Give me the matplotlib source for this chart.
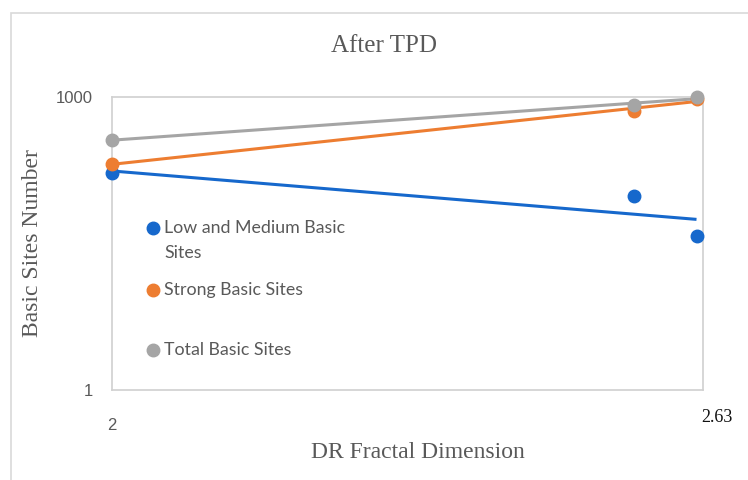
import numpy as np
import matplotlib
matplotlib.use("Agg")
import matplotlib.pyplot as plt
from matplotlib.lines import Line2D
from matplotlib.patches import Rectangle

# ---- data ----
x_vals = [2.0, 2.563, 2.63]
low_medium = [167, 97, 38]
strong = [206, 719, 955]
total = [363, 828, 1000]
series_names = ["Low and Medium Basic\nSites", "Strong Basic Sites", "Total Basic Sites"]
colors = ["#1668cc", "#ed7d31", "#a5a5a5"]

W, H = 748, 480
fig = plt.figure(figsize=(W / 100, H / 100), dpi=100)
fig.patch.set_facecolor("white")

# outer chart border
fig.patches.append(Rectangle((11 / W, -0.1), 1.2, 1 - 13 / H + 0.1, transform=fig.transFigure,
                             fill=False, edgecolor="#d9d9d9", linewidth=1.2))

ax = fig.add_axes([112 / W, 1 - 390 / H, 591 / W, 293 / H])
ax.set_yscale("log")
ax.set_ylim(1, 1000)
ax.set_xlim(2.0, 2.637)

xs = np.array(x_vals)
for ys, c in zip([low_medium, strong, total], colors):
    ys = np.array(ys, dtype=float)
    # exponential trendline (linear fit in log space)
    k, b = np.polyfit(xs, np.log10(ys), 1)
    xt = np.array([xs.min(), xs.max()])
    ax.plot(xt, 10 ** (k * xt + b), color=c, linewidth=2.2, zorder=2, solid_capstyle="butt")
    ax.plot(xs, ys, "o", color=c, markersize=9, zorder=3, clip_on=False)

for s in ax.spines.values():
    s.set_color("#d0d0d0")
    s.set_linewidth(1.2)

ax.set_yticks([1, 1000])
ax.set_yticklabels(["1", "1000"])
ax.yaxis.set_minor_locator(matplotlib.ticker.NullLocator())
ax.set_xticks([2.0])
ax.set_xticklabels(["2"])
ax.tick_params(length=0, labelcolor="#595959", labelsize=12, pad=14)
for lab in ax.get_yticklabels() + ax.get_xticklabels():
    lab.set_family("Liberation Sans")
ax.tick_params(axis="x", pad=20)

fig.text(717 / W, 1 - 417 / H, "2.63", ha="center", va="center",
         family="Liberation Serif", fontsize=13, color="#111111")

fig.text(384 / W, 1 - 46 / H, "After TPD", ha="center", va="center",
         family="Liberation Serif", fontsize=18, color="#595959")
fig.text(418 / W, 1 - 452 / H, "DR Fractal Dimension", ha="center", va="center",
         family="Liberation Serif", fontsize=17, color="#595959")
fig.text(33 / W, 1 - 243 / H, "Basic Sites Number", ha="center", va="center", rotation=90,
         family="Liberation Serif", fontsize=17, color="#595959")

# legend (manual layout)
leg_y = [228, 290, 350]
for name, c, yy in zip(series_names, colors, leg_y):
    fig.lines.append(Line2D([153 / W], [1 - yy / H], marker="o", color=c, markersize=9,
                            transform=fig.transFigure, linestyle="none"))
    fig.text(164 / W, 1 - (yy - 8) / H, name, ha="left", va="top", family="Lato",
             fontsize=12.8, color="#595959", linespacing=1.7)

fig.savefig("out.png", dpi=100, facecolor="white")
